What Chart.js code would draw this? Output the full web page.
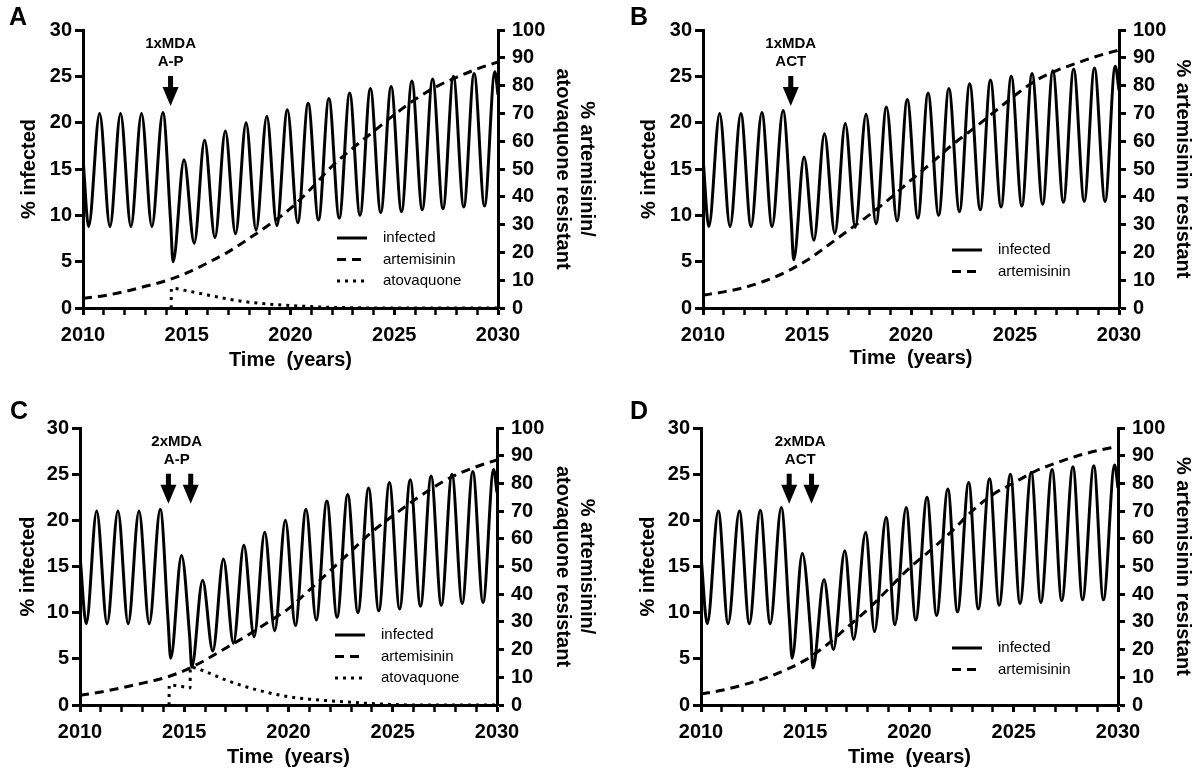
<!DOCTYPE html>
<html><head><meta charset="utf-8">
<script src="https://cdn.jsdelivr.net/npm/chart.js@4.4.1/dist/chart.umd.min.js"></script>
<style>
html,body{margin:0;padding:0;background:#fff;}
#wrap{position:relative;width:1200px;height:774px;overflow:hidden;}
#wrap canvas{position:absolute;}
</style></head><body>
<div id="wrap">
<canvas id="cA" width="600" height="387" style="left:0;top:0"></canvas>
<canvas id="cB" width="600" height="387" style="left:600px;top:0"></canvas>
<canvas id="cC" width="600" height="387" style="left:0;top:387px"></canvas>
<canvas id="cD" width="600" height="387" style="left:600px;top:387px"></canvas>
</div>
<script>
// ---------- DATA ----------
const years = [2010,2011,2012,2013,2014,2015,2016,2017,2018,2019,2020,2021,2022,2023,2024,2025,2026,2027,2028,2029,2030];

// Panel A : 1xMDA A-P
const infA_t = [2010.0,2010.27,2010.8,2011.3,2011.81,2012.31,2012.82,2013.32,2013.85,2014.22,2014.34,2014.87,2015.36,2015.86,2016.36,2016.86,2017.35,2017.86,2018.34,2018.86,2019.34,2019.85,2020.35,2020.85,2021.35,2021.85,2022.35,2022.85,2023.35,2023.85,2024.35,2024.85,2025.35,2025.85,2026.35,2026.85,2027.35,2027.85,2028.35,2028.85,2029.35,2029.85,2030.0];
const infA_v = [16.2,8.8,21.0,8.8,21.0,8.8,21.0,8.8,21.1,9.4,5.0,16.0,7.0,18.1,7.6,19.1,8.0,20.0,8.4,20.7,8.9,21.4,9.2,22.1,9.5,22.6,9.7,23.2,10.0,23.7,10.3,23.9,10.4,24.5,10.6,24.7,10.7,25.0,10.9,25.3,11.0,25.5,23.0];
const artA = [3.5,4.4,5.9,7.8,9.8,12.6,16.2,20.2,25.0,30.1,35.8,43.0,51.0,57.5,63.5,69.5,75.0,79.5,83.0,86.0,88.5];
const atoA_t = [2014.25,2014.26,2015,2016,2017,2018,2019,2020,2021,2022,2023,2024,2030];
const atoA_v = [0,7.1,6.2,4.7,3.2,2.1,1.4,0.85,0.5,0.25,0.1,0,0];

// Panel B : 1xMDA ACT
const infB_t = [2010.0,2010.28,2010.8,2011.3,2011.82,2012.31,2012.83,2013.32,2013.85,2014.24,2014.36,2014.86,2015.33,2015.84,2016.34,2016.84,2017.32,2017.84,2018.32,2018.82,2019.33,2019.82,2020.33,2020.82,2021.33,2021.82,2022.33,2022.82,2023.33,2023.82,2024.33,2024.82,2025.33,2025.82,2026.33,2026.82,2027.33,2027.82,2028.33,2028.82,2029.33,2029.82,2030.0];
const infB_v = [16.2,8.8,21.0,8.8,21.0,8.8,21.1,8.8,21.3,9.6,5.2,16.3,7.3,18.8,8.05,19.9,8.7,20.9,9.1,21.7,9.4,22.5,9.7,23.2,10.0,23.7,10.4,24.2,10.6,24.6,10.9,25.0,11.0,25.3,11.2,25.6,11.4,25.8,11.5,25.9,11.5,26.1,23.5];
const artB = [4.6,5.8,7.4,9.8,13.0,17.2,22.5,28.0,33.5,39.5,46.0,52.3,58.8,64.5,70.5,76.5,81.8,85.4,88.2,90.7,92.8];

// Panel C : 2xMDA A-P
const infC_t = [2010.0,2010.3,2010.8,2011.3,2011.82,2012.31,2012.83,2013.32,2013.85,2014.22,2014.35,2014.87,2015.26,2015.36,2015.88,2016.37,2016.88,2017.36,2017.86,2018.35,2018.86,2019.34,2019.85,2020.33,2020.84,2021.33,2021.84,2022.33,2022.84,2023.33,2023.84,2024.33,2024.84,2025.33,2025.84,2026.33,2026.84,2027.33,2027.84,2028.33,2028.84,2029.33,2029.84,2030.0];
const infC_v = [16.2,8.8,21.0,8.8,21.0,8.8,21.0,8.8,21.2,9.3,5.06,16.2,7.4,4.1,13.5,5.85,15.8,6.7,17.3,7.4,18.7,8.05,20.0,8.6,21.2,9.2,22.1,9.5,22.8,10.0,23.5,10.2,24.1,10.4,24.4,10.7,24.8,10.8,25.0,11.0,25.3,11.1,25.5,23.0];
const artC = [3.5,4.7,6.2,7.9,9.7,12.4,16.2,20.6,25.0,29.8,34.8,41.5,48.5,55.5,62.5,68.3,73.8,78.8,83.0,86.0,88.5];
const atoC_t = [2014.27,2014.28,2014.8,2015.28,2015.29,2016,2017,2018,2019,2020,2021,2022,2023,2024,2025,2026,2030];
const atoC_v = [0,7.2,6.8,6.2,13.6,12.1,9.0,6.5,4.5,3.0,2.1,1.5,1.0,0.5,0.2,0,0];

// Panel D : 2xMDA ACT
const infD_t = [2010.0,2010.3,2010.83,2011.3,2011.84,2012.32,2012.84,2013.32,2013.85,2014.24,2014.37,2014.86,2015.27,2015.37,2015.9,2016.35,2016.9,2017.32,2017.9,2018.32,2018.88,2019.3,2019.84,2020.3,2020.84,2021.3,2021.84,2022.3,2022.84,2023.3,2023.84,2024.3,2024.84,2025.3,2025.84,2026.3,2026.84,2027.3,2027.84,2028.3,2028.84,2029.3,2029.84,2030.0];
const infD_v = [16.2,8.8,21.0,8.8,21.0,8.8,21.1,8.8,21.4,9.2,5.06,16.4,7.5,4.0,13.6,6.0,16.7,7.1,18.7,7.95,20.3,8.7,21.4,9.2,22.5,9.7,23.4,10.1,24.1,10.4,24.5,10.8,25.0,11.0,25.2,11.1,25.5,11.3,25.8,11.4,25.9,11.4,26.0,23.5];
const artD = [4.0,5.3,7.2,9.5,12.5,16.2,21.5,28.0,34.5,42.0,49.5,55.8,62.5,70.0,76.0,80.2,84.3,87.3,89.8,91.8,93.4];

// MDA rounds (years) and labels
const mdaA = [2014.22], mdaB = [2014.22], mdaC = [2014.24, 2015.31], mdaD = [2014.23, 2015.3];
const lblA = ['1xMDA','A-P'], lblB = ['1xMDA','ACT'], lblC = ['2xMDA','A-P'], lblD = ['2xMDA','ACT'];

// axis ticks
const xRange = [2010, 2030], yLeftRange = [0, 30], yRightRange = [0, 100];
const xMajorStep = 5, xMinorStep = 1, yLeftStep = 5, yRightStep = 10;

// ---------- RENDERING ----------
const FONT = "'Liberation Sans', Arial, sans-serif";
Chart.defaults.color = '#000';
Chart.defaults.font.family = FONT;

const pts = (t, v) => t.map((x, i) => ({x: x, y: v[i]}));
const isMajor = v => Math.abs(((v - xRange[0]) % xMajorStep)) < 1e-6;

const overlay = {
  id: 'overlay',
  afterDatasetsDraw(chart, args, o) {
    const ctx = chart.ctx, xs = chart.scales.x, ys = chart.scales.y;
    ctx.save();
    ctx.fillStyle = '#000';
    const tip = ys.getPixelForValue(o.tipValue);
    o.mda.forEach(t => {
      const px = xs.getPixelForValue(t);
      ctx.fillRect(px - 2.5, tip - 30, 5, 12);
      ctx.beginPath();
      ctx.moveTo(px - 8, tip - 19);
      ctx.lineTo(px + 8, tip - 19);
      ctx.lineTo(px, tip);
      ctx.closePath();
      ctx.fill();
    });
    const cx = xs.getPixelForValue(o.textAt);
    ctx.font = 'bold 15px ' + FONT;
    ctx.textAlign = 'center'; ctx.textBaseline = 'middle';
    ctx.fillText(o.labels[0], cx, tip - 62);
    ctx.fillText(o.labels[1], cx, tip - 44);
    // legend
    ctx.font = '15px ' + FONT; ctx.textAlign = 'left';
    chart.data.datasets.forEach((d, i) => {
      const y = o.legY + i * o.legGap;
      ctx.save();
      ctx.strokeStyle = '#000'; ctx.lineWidth = 3; ctx.lineCap = 'butt';
      ctx.setLineDash(d.borderDash || []);
      ctx.beginPath(); ctx.moveTo(o.legX, y); ctx.lineTo(o.legX + 30, y); ctx.stroke();
      ctx.restore();
      ctx.fillText(d.label, o.legX + 46, y);
    });
    // panel letter
    ctx.font = 'bold 25px ' + FONT; ctx.textAlign = 'left';
    ctx.fillText(o.letter, o.letX, o.letY);
    ctx.restore();
  }
};

function panel(id, d, L) {
  const base = {borderColor: '#000', borderWidth: 3, pointRadius: 0, cubicInterpolationMode: 'monotone', fill: false, borderCapStyle: 'butt'};
  const ds = [
    Object.assign({label: 'infected', data: pts(d.infT, d.infV), yAxisID: 'y'}, base),
    Object.assign({label: 'artemisinin', data: pts(years, d.art), yAxisID: 'y2', borderDash: [9, 6]}, base)
  ];
  if (d.atoT) ds.push(Object.assign({label: 'atovaquone', data: pts(d.atoT, d.atoV), yAxisID: 'y2', borderDash: [3, 5]}, base));
  const tickFont = {size: 20, weight: 'bold'};
  const titleFont = {size: 20, weight: 'bold', lineHeight: 1.2};
  new Chart(document.getElementById(id), {
    type: 'line',
    data: {datasets: ds},
    options: {
      responsive: false, animation: false, events: [],
      layout: {padding: {top: L.top, left: 0, right: 0, bottom: 0}},
      plugins: {
        legend: {display: false}, tooltip: {enabled: false},
        overlay: {mda: d.mda, labels: d.labels, textAt: d.textAt, tipValue: 21.8,
                  legX: L.legX, legY: L.legY, legGap: 21.5, letter: L.letter, letX: L.letX, letY: L.letY}
      },
      scales: {
        x: {type: 'linear', position: 'bottom', min: xRange[0], max: xRange[1],
            ticks: {stepSize: xMinorStep, callback: v => isMajor(v) ? String(v) : '', font: tickFont, color: '#000', padding: 8, autoSkip: false, maxRotation: 0},
            grid: {drawOnChartArea: false, tickLength: 7,
                   tickWidth: c => (c.tick && isMajor(c.tick.value)) ? 3 : 2.5, tickColor: '#000'},
            border: {width: 3, color: '#000'},
            title: {display: true, text: 'Time  (years)', font: titleFont, color: '#000', padding: {top: 0, bottom: L.xtb}},
            afterFit: s => { s.height = L.xh; }},
        y: {type: 'linear', position: 'left', min: yLeftRange[0], max: yLeftRange[1],
            ticks: {stepSize: yLeftStep, font: tickFont, color: '#000', padding: 3},
            grid: {drawOnChartArea: false, tickLength: 8, tickWidth: 3, tickColor: '#000'},
            border: {width: 3, color: '#000'},
            title: {display: true, text: '% infected', font: titleFont, color: '#000', padding: {top: L.ytp, bottom: 0}},
            afterFit: s => { s.width = L.yw; }},
        y2: {type: 'linear', axis: 'y', position: 'right', min: yRightRange[0], max: yRightRange[1],
            ticks: {stepSize: yRightStep, font: tickFont, color: '#000', padding: 7},
            grid: {drawOnChartArea: false, tickLength: 7, tickWidth: 3, tickColor: '#000'},
            border: {width: 3, color: '#000'},
            title: {display: true, text: d.rtitle, font: titleFont, color: '#000', padding: {top: L.rtp, bottom: 0}},
            afterFit: s => { s.width = L.rw; }}
      }
    },
    plugins: [overlay]
  });
}

const rtitle2 = ['% artemisinin/', 'atovaquone resistant'];
const rtitle1 = '% artemisinin resistant';

panel('cA', {infT: infA_t, infV: infA_v, art: artA, atoT: atoA_t, atoV: atoA_v, mda: mdaA, labels: lblA, textAt: 2014.22, rtitle: rtitle2},
      {top: 30, xh: 79, xtb: 15, yw: 83, ytp: 17, rw: 102, rtp: 1, legX: 337, legY: 238, letter: 'A', letX: 9, letY: 18});
panel('cB', {infT: infB_t, infV: infB_v, art: artB, mda: mdaB, labels: lblB, textAt: 2014.22, rtitle: rtitle1},
      {top: 30, xh: 79, xtb: 17, yw: 103, ytp: 37, rw: 81, rtp: 5, legX: 352, legY: 250, letter: 'B', letX: 30, letY: 18});
panel('cC', {infT: infC_t, infV: infC_v, art: artC, atoT: atoC_t, atoV: atoC_v, mda: mdaC, labels: lblC, textAt: 2014.64, rtitle: rtitle2},
      {top: 41, xh: 69, xtb: 5, yw: 80, ytp: 16, rw: 103, rtp: 1, legX: 335, legY: 248, letter: 'C', letX: 10, letY: 25});
panel('cD', {infT: infD_t, infV: infD_v, art: artD, mda: mdaD, labels: lblD, textAt: 2014.76, rtitle: rtitle1},
      {top: 41, xh: 69, xtb: 5, yw: 101, ytp: 36, rw: 82, rtp: 5, legX: 352, legY: 261, letter: 'D', letX: 30, letY: 25});
</script>
</body></html>
